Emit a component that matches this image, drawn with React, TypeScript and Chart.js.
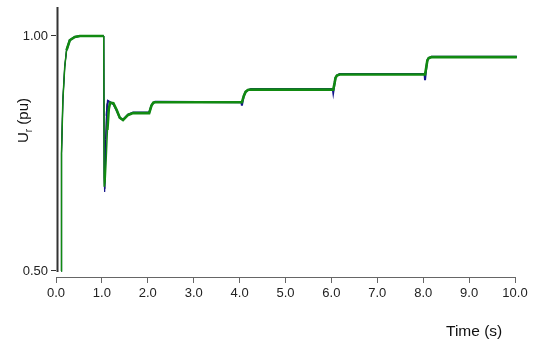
import React, { useEffect, useRef } from "react";
import { Chart, registerables } from "chart.js";

Chart.register(...registerables);

// Time axis ticks
const xTicks = [0, 1, 2, 3, 4, 5, 6, 7, 8, 9, 10];
const yTicks = [0.5, 1.0];

// Green series (top)
const greenT = [0.11, 0.11, 0.13, 0.15, 0.19, 0.23, 0.30, 0.41, 0.52, 1.04, 1.05, 1.07, 1.09, 1.12, 1.15, 1.18, 1.25, 1.32, 1.39, 1.46, 1.57, 1.68, 2.03, 2.08, 2.12, 2.16, 4.05, 4.09, 4.13, 4.18, 4.25, 6.04, 6.07, 6.09, 6.12, 6.18, 8.04, 8.07, 8.09, 8.12, 8.18, 10.04];
const greenV = [0.50, 0.666, 0.75, 0.864, 0.934, 0.970, 0.991, 0.998, 1.000, 1.000, 0.679, 0.69, 0.73, 0.80, 0.845, 0.858, 0.857, 0.843, 0.826, 0.821, 0.832, 0.836, 0.836, 0.852, 0.858, 0.859, 0.859, 0.872, 0.881, 0.885, 0.886, 0.886, 0.900, 0.911, 0.916, 0.918, 0.918, 0.935, 0.948, 0.953, 0.955, 0.955];

// Blue series (middle)
const blueT = [0.11, 0.11, 0.13, 0.15, 0.19, 0.23, 0.30, 0.41, 0.52, 1.04, 1.05, 1.06, 1.08, 1.10, 1.13, 1.17, 1.25, 1.32, 1.39, 1.46, 1.57, 1.68, 2.03, 2.08, 2.12, 2.16, 4.04, 4.05, 4.09, 4.13, 4.18, 4.25, 6.03, 6.04, 6.07, 6.09, 6.12, 6.18, 8.03, 8.04, 8.07, 8.09, 8.12, 8.18, 10.04];
const blueV = [0.50, 0.666, 0.75, 0.864, 0.934, 0.970, 0.991, 0.998, 1.000, 1.000, 0.70, 0.668, 0.74, 0.83, 0.862, 0.860, 0.855, 0.842, 0.826, 0.822, 0.833, 0.837, 0.837, 0.852, 0.858, 0.860, 0.859, 0.852, 0.872, 0.881, 0.885, 0.887, 0.887, 0.880, 0.900, 0.911, 0.916, 0.919, 0.919, 0.906, 0.935, 0.948, 0.953, 0.956, 0.956];

// Black series (bottom, thin)
const blackT = [0.11, 0.11, 0.13, 0.15, 0.19, 0.23, 0.30, 0.41, 0.52, 1.04, 1.05, 1.06, 1.08, 1.11, 1.14, 1.18, 1.25, 1.32, 1.39, 1.46, 1.57, 1.68, 2.03, 2.08, 2.12, 2.16, 4.05, 4.09, 4.13, 4.18, 4.25, 6.04, 6.07, 6.09, 6.12, 6.18, 8.04, 8.07, 8.09, 8.12, 8.18, 10.04];
const blackV = [0.50, 0.666, 0.75, 0.864, 0.934, 0.970, 0.991, 0.998, 1.000, 1.000, 0.70, 0.675, 0.78, 0.855, 0.862, 0.859, 0.855, 0.842, 0.826, 0.822, 0.833, 0.837, 0.837, 0.852, 0.858, 0.860, 0.859, 0.872, 0.881, 0.885, 0.887, 0.887, 0.900, 0.911, 0.916, 0.919, 0.919, 0.935, 0.948, 0.953, 0.956, 0.956];

const FONT = "'Liberation Sans', Arial, sans-serif";

const toXY = (t: number[], v: number[]) => t.map((x, i) => ({ x, y: v[i] }));

// thinner stroke on the steep transient segments
const thinWhere = (wide: number, thin: number) => (c: any) => {
  const x0 = c.p0.parsed.x;
  const x1 = c.p1.parsed.x;
  const steep = (x0 < 0.2) || (x0 >= 1.04 && x1 <= 1.12);
  return steep ? thin : wide;
};

const axisPlugin = {
  id: "customAxes",
  afterDraw(chart: any) {
    const { ctx, chartArea, scales } = chart;
    const y = scales.y;
    ctx.save();
    // y axis line (detached from x axis)
    ctx.strokeStyle = "#333";
    ctx.lineWidth = 2;
    ctx.beginPath();
    ctx.moveTo(chartArea.left + 1.5, chartArea.top);
    ctx.lineTo(chartArea.left + 1.5, y.getPixelForValue(0.5) + 1);
    ctx.stroke();

    ctx.fillStyle = "#111";
    // x title
    ctx.font = `15.5px ${FONT}`;
    ctx.textBaseline = "alphabetic";
    ctx.textAlign = "left";
    ctx.fillText("Time (s)", 446, 336);

    // y title rotated with subscript
    ctx.translate(28, 143);
    ctx.rotate(-Math.PI / 2);
    ctx.font = `15px ${FONT}`;
    ctx.fillText("U", 0, 0);
    const wU = ctx.measureText("U").width;
    ctx.font = `10px ${FONT}`;
    ctx.fillText("r", wU, 4);
    const wr = ctx.measureText("r").width;
    ctx.font = `15px ${FONT}`;
    ctx.fillText(" (pu)", wU + wr, 0);
    ctx.restore();
  },
};

export default function App() {
  const ref = useRef<HTMLCanvasElement | null>(null);

  useEffect(() => {
    document.body.style.margin = "0";
    const canvas = ref.current;
    if (!canvas) return;
    const chart = new Chart(canvas, {
      type: "line",
      data: {
        datasets: [
          {
            data: toXY(greenT, greenV),
            borderColor: "#118a11",
            borderWidth: 2.6,
            segment: { borderWidth: thinWhere(2.6, 1.5) },
            pointRadius: 0,
            tension: 0,
            fill: false,
            clip: false as any,
          },
          {
            data: toXY(blueT, blueV),
            borderColor: "#14148c",
            borderWidth: 2,
            segment: { borderWidth: thinWhere(2, 1.2) },
            pointRadius: 0,
            tension: 0,
            fill: false,
            clip: false as any,
          },
          {
            data: toXY(blackT, blackV),
            borderColor: "#111111",
            borderWidth: 1,
            pointRadius: 0,
            tension: 0,
            fill: false,
            clip: false as any,
          },
        ],
      },
      options: {
        animation: false,
        responsive: false,
        devicePixelRatio: 1,
        layout: { padding: { top: 7, right: 21, left: 0, bottom: 0 } },
        plugins: { legend: { display: false }, tooltip: { enabled: false } },
        scales: {
          x: {
            type: "linear",
            min: 0,
            max: 10,
            afterFit: (s: any) => {
              s.height = 64;
              s.paddingLeft = 0;
              s.paddingRight = 0;
            },
            afterBuildTicks: (s: any) => {
              s.ticks = xTicks.map((value) => ({ value }));
            },
            ticks: {
              callback: (v: any) => Number(v).toFixed(1),
              font: { family: FONT, size: 13 },
              color: "#222",
              maxRotation: 0,
              autoSkip: false,
              padding: 3,
            },
            grid: { drawOnChartArea: false, drawTicks: true, tickLength: 6, color: "#666", lineWidth: 1 },
            border: { display: true, color: "#666", width: 1 },
          },
          y: {
            type: "linear",
            min: 0.48723,
            max: 1.0617,
            afterFit: (s: any) => {
              s.width = 56;
              s.paddingTop = 0;
              s.paddingBottom = 0;
            },
            afterBuildTicks: (s: any) => {
              s.ticks = yTicks.map((value) => ({ value }));
            },
            ticks: {
              callback: (v: any) => Number(v).toFixed(2),
              font: { family: FONT, size: 13 },
              color: "#222",
              padding: 3,
            },
            grid: { drawOnChartArea: false, drawTicks: true, tickLength: 5, color: "#333", lineWidth: 1 },
            border: { display: false },
          },
        },
      },
      plugins: [axisPlugin],
    });
    return () => chart.destroy();
  }, []);

  return (
    <div style={{ width: 536, height: 341, position: "relative" }}>
      <canvas ref={ref} width={536} height={341} style={{ display: "block" }} />
    </div>
  );
}
